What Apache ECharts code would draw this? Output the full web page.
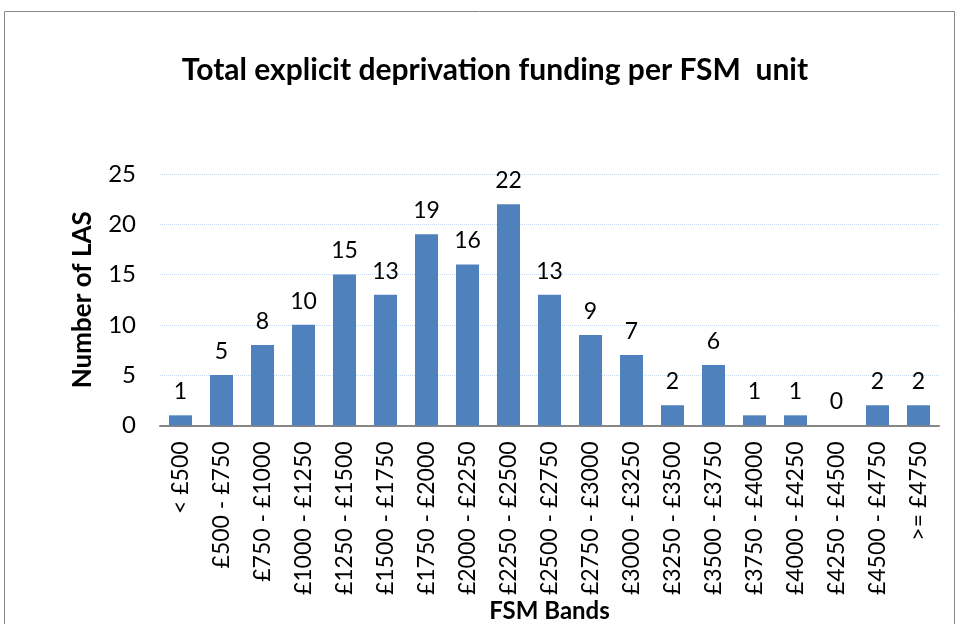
<!DOCTYPE html>
<html>
<head>
<meta charset="utf-8">
<script src="https://cdn.jsdelivr.net/npm/echarts@6/dist/echarts.min.js"></script>
<style>
    html, body { margin: 0; padding: 0; background: #fff; }
    #chart { width: 957px; height: 624px; }
</style>
</head>
<body>
<div id="chart"></div>
<script>
    // FSM bands and number of LAs in each
    var bands = ['< £500', '£500 - £750', '£750 - £1000', '£1000 - £1250', '£1250 - £1500',
        '£1500 - £1750', '£1750 - £2000', '£2000 - £2250', '£2250 - £2500', '£2500 - £2750',
        '£2750 - £3000', '£3000 - £3250', '£3250 - £3500', '£3500 - £3750', '£3750 - £4000',
        '£4000 - £4250', '£4250 - £4500', '£4500 - £4750', '>= £4750'];
    var counts = [1, 5, 8, 10, 15, 13, 19, 16, 22, 13, 9, 7, 2, 6, 1, 1, 0, 2, 2];

    var font = 'Lato, "Open Sans", sans-serif';
    var chart = echarts.init(document.getElementById('chart'));
    chart.setOption({
        backgroundColor: '#fff',
        animation: false,
        graphic: [{
            type: 'rect',
            shape: {x: 4.5, y: 11.5, width: 950, height: 640},
            style: {fill: 'none', stroke: '#888', lineWidth: 1}
        }],
        title: {
            text: 'Total explicit deprivation funding per FSM  unit',
            left: 490,
            textAlign: 'center',
            top: 50,
            textStyle: {fontFamily: font, fontSize: 30, fontWeight: 'bold', color: '#000'}
        },
        grid: {left: 160, right: 18, top: 174, bottom: 196},
        xAxis: {
            type: 'category',
            data: bands,
            name: 'FSM Bands',
            nameLocation: 'middle',
            nameGap: 172,
            nameTextStyle: {fontFamily: font, fontSize: 24, fontWeight: 'bold', color: '#000'},
            axisLine: {lineStyle: {color: '#868686', width: 2}},
            axisTick: {show: false},
            axisLabel: {rotate: 90, interval: 0, margin: 16, fontFamily: font, fontSize: 23, color: '#000'}
        },
        yAxis: {
            type: 'value',
            min: 0,
            max: 25,
            interval: 5,
            name: 'Number of LAS',
            nameLocation: 'middle',
            nameGap: 64,
            nameTextStyle: {fontFamily: font, fontSize: 26, fontWeight: 'bold', color: '#000'},
            axisLine: {show: false},
            axisTick: {show: false},
            axisLabel: {margin: 24, fontFamily: font, fontSize: 24, color: '#000'},
            splitLine: {lineStyle: {color: '#c6d9f1', type: 'dotted', width: 1}}
        },
        series: [{
            type: 'bar',
            data: counts,
            barWidth: 23,
            itemStyle: {color: '#4f81bd'},
            label: {
                show: true,
                position: 'top',
                distance: 12,
                fontFamily: font,
                fontSize: 23,
                color: '#000'
            }
        }]
    });
</script>
</body>
</html>
